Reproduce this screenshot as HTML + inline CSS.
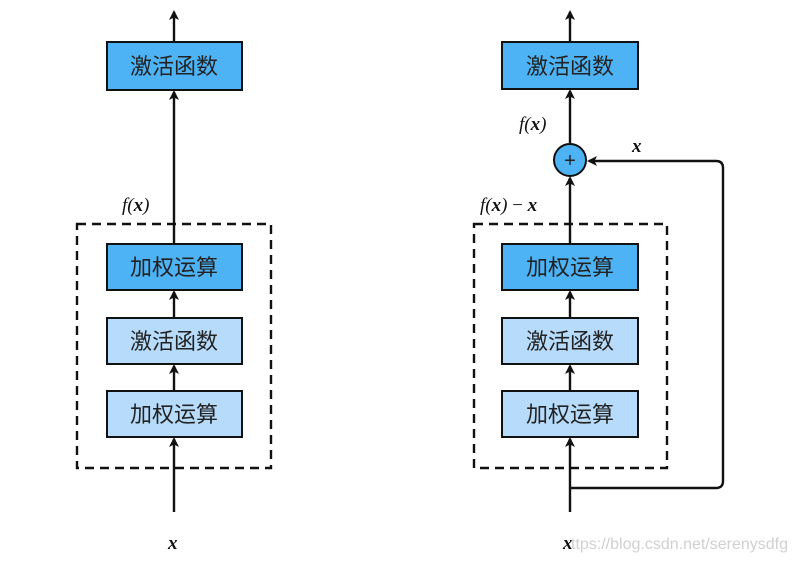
<!DOCTYPE html>
<html><head><meta charset="utf-8"><style>
body{margin:0;background:#fff;}
</style></head><body>
<svg width="796" height="563" xmlns="http://www.w3.org/2000/svg" font-family="'Liberation Sans','Noto Sans CJK SC',sans-serif">
<defs><marker id="a" markerWidth="10" markerHeight="10" refX="8" refY="5" orient="auto" markerUnits="userSpaceOnUse"><path d="M0,0 L10,5 L0,10 L2.5,5 Z" fill="#111"/></marker></defs>
<g stroke="#111" stroke-width="2.4" fill="none">
<line x1="174" y1="512" x2="174" y2="439" marker-end="url(#a)"/>
<line x1="174" y1="391" x2="174" y2="366" marker-end="url(#a)"/>
<line x1="174" y1="318" x2="174" y2="292" marker-end="url(#a)"/>
<line x1="174" y1="244" x2="174" y2="92" marker-end="url(#a)"/>
<line x1="174" y1="42" x2="174" y2="12" marker-end="url(#a)"/>
<rect x="77" y="224" width="194" height="244" stroke-dasharray="9,6"/>
<line x1="570" y1="512" x2="570" y2="439" marker-end="url(#a)"/>
<line x1="570" y1="391" x2="570" y2="366" marker-end="url(#a)"/>
<line x1="570" y1="318" x2="570" y2="292" marker-end="url(#a)"/>
<line x1="570" y1="244" x2="570" y2="178" marker-end="url(#a)"/>
<line x1="570" y1="143" x2="570" y2="91" marker-end="url(#a)"/>
<line x1="570" y1="42" x2="570" y2="12" marker-end="url(#a)"/>
<path d="M570,488 H716 Q723,488 723,481 V168 Q723,161 716,161 H589" marker-end="url(#a)"/>
<rect x="474" y="224" width="193" height="244" stroke-dasharray="9,6"/>
</g>
<g stroke="#111" stroke-width="2">
<rect x="107" y="42" width="135" height="48" fill="#4db3f5"/>
<rect x="107" y="244" width="135" height="46" fill="#4db3f5"/>
<rect x="107" y="318" width="135" height="46" fill="#b7dcfb"/>
<rect x="107" y="391" width="135" height="46" fill="#b7dcfb"/>
<rect x="502" y="42" width="136" height="47" fill="#4db3f5"/>
<rect x="502" y="244" width="136" height="46" fill="#4db3f5"/>
<rect x="502" y="318" width="136" height="46" fill="#b7dcfb"/>
<rect x="502" y="391" width="136" height="46" fill="#b7dcfb"/>
<circle cx="570" cy="160" r="16" fill="#4db3f5"/>
</g>
<g font-size="22" fill="#222" text-anchor="middle">
<text x="174" y="74">激活函数</text>
<text x="174" y="275">加权运算</text>
<text x="174" y="349">激活函数</text>
<text x="174" y="422">加权运算</text>
<text x="570" y="74">激活函数</text>
<text x="570" y="275">加权运算</text>
<text x="570" y="349">激活函数</text>
<text x="570" y="422">加权运算</text>
<text x="570" y="167" font-size="20">+</text>
</g>
<g font-family="'Liberation Serif',serif" font-style="italic" font-size="19" fill="#111">
<text x="122" y="211">f(<tspan font-weight="bold">x</tspan>)</text>
<text x="168" y="549" font-weight="bold">x</text>
<text x="519" y="130">f(<tspan font-weight="bold">x</tspan>)</text>
<text x="632" y="152" font-weight="bold">x</text>
<text x="480" y="211">f(<tspan font-weight="bold">x</tspan>) <tspan font-style="normal">−</tspan> <tspan font-weight="bold">x</tspan></text>
<text x="563" y="549" font-weight="bold">x</text>
</g>
<text x="571" y="549" font-size="16" fill="#d0d0d0">ttps://blog.csdn.net/serenysdfg</text>
</svg>
</body></html>
